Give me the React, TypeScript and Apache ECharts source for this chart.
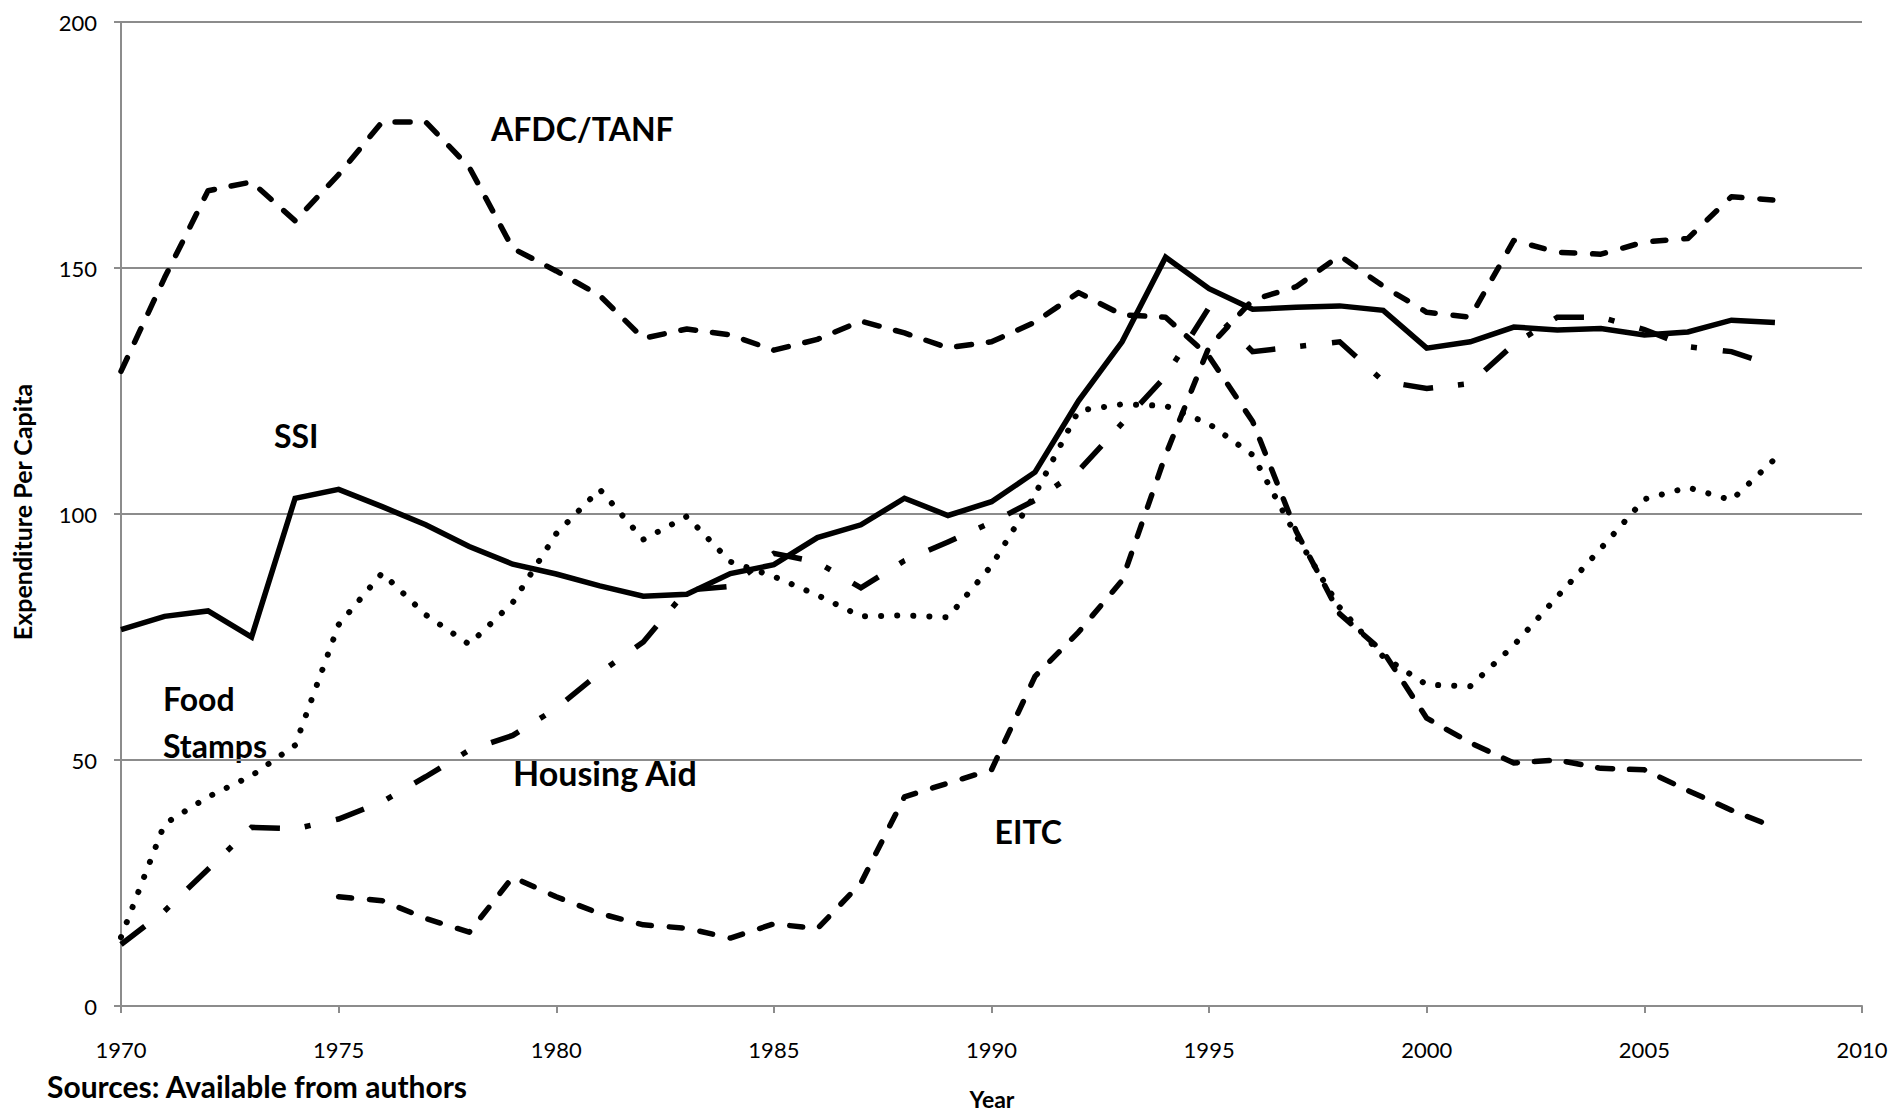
import React, { useEffect, useRef } from "react";
import * as echarts from "echarts";

// ---- data ----
const years = [
  1970, 1971, 1972, 1973, 1974, 1975, 1976, 1977, 1978, 1979,
  1980, 1981, 1982, 1983, 1984, 1985, 1986, 1987, 1988, 1989,
  1990, 1991, 1992, 1993, 1994, 1995, 1996, 1997, 1998, 1999,
  2000, 2001, 2002, 2003, 2004, 2005, 2006, 2007, 2008,
];

const afdcTanf = [
  129, 148, 165.7, 167.5, 159.6, 169, 179.7, 179.7, 170.5, 154,
  149.4, 144.4, 135.7, 137.6, 136.4, 133.3, 135.5, 139.2, 136.8, 133.8,
  135, 139, 145, 140.5, 140, 132, 118.8, 96.5, 79.7, 72,
  58.5, 53.5, 49.4, 50, 48.3, 48, 43.8, 39.8, 36.3,
];

const ssi = [
  76.5, 79.2, 80.3, 75, 103.2, 105, 101.5, 97.8, 93.4, 89.8,
  87.8, 85.4, 83.3, 83.7, 87.9, 89.7, 95.2, 97.8, 103.2, 99.7,
  102.5, 108.5, 123, 135, 152.2, 145.8, 141.6, 142, 142.3, 141.4,
  133.7, 135, 138, 137.4, 137.7, 136.4, 137, 139.4, 138.9,
];

const foodStamps = [
  14, 37, 42.5, 46.8, 53, 77.5, 88, 79.5, 73.5, 82,
  96, 105, 94.8, 99.5, 90.3, 87.3, 83.5, 79.2, 79.4, 79,
  89.5, 104, 121, 122.3, 122, 118.3, 112, 95.6, 81, 71,
  65.3, 65, 73.3, 83.2, 93, 103, 105.4, 102.8, 111.2,
];

const housingAid = [
  12.5, 19.3, 27.8, 36.3, 36, 38, 41.5, 46.6, 52, 55,
  60.5, 67.7, 74, 84.5, 85.3, 92, 90.2, 85, 90.5, 94.3,
  98.3, 102.8, 108.8, 118.4, 128, 142, 133, 134, 135, 127,
  125.5, 126.5, 134.5, 140, 140, 137.5, 134, 133, 130,
];

const eitcYears = [
  1975, 1976, 1977, 1978, 1979, 1980, 1981, 1982, 1983, 1984,
  1985, 1986, 1987, 1988, 1989, 1990, 1991, 1992, 1993, 1994,
  1995, 1996, 1997, 1998, 1999, 2000, 2001, 2002, 2003, 2004,
  2005, 2006, 2007, 2008,
];
const eitc = [
  22.2, 21.4, 17.8, 15, 26.2, 22.2, 18.8, 16.5, 15.8, 13.8,
  16.7, 15.7, 25, 42.5, 45.3, 48, 67, 76, 86.5, 112,
  134, 143.5, 146.2, 152.5, 146.3, 141, 140, 155.6, 153.2, 152.8,
  155.3, 156, 164.5, 163.8,
];

const xAxisRange = [1970, 2010];
const yAxisRange = [0, 200];
const yAxisTitle = "Expenditure Per Capita";
const xAxisTitle = "Year";
const sourceNote = "Sources: Available from authors";

const FONT = "Lato, 'Open Sans', sans-serif";
const GRAY = "#8c8c8c";

function pair(xs: number[], vs: number[]) {
  return xs.map((x, i) => [x, vs[i]]);
}

function labelText(text: string, x: number, y: number, size: number, extra: any = {}) {
  return {
    type: "text",
    x,
    y,
    silent: true,
    ...extra,
    style: {
      text,
      fill: "#000",
      fontFamily: FONT,
      fontWeight: "bold",
      fontSize: size,
      textAlign: extra.align || "left",
      align: extra.align || "left",
      textVerticalAlign: "middle",
      verticalAlign: "middle",
    },
  };
}

export default function App() {
  const ref = useRef<HTMLDivElement>(null);

  useEffect(() => {
    document.body.style.margin = "0";
    const chart = echarts.init(ref.current as HTMLDivElement, null, { renderer: "svg" });
    const base = {
      type: "line",
      symbol: "none",
      showSymbol: false,
      silent: true,
      animation: false,
    };
    chart.setOption({
      animation: false,
      backgroundColor: "#ffffff",
      grid: { left: 121, right: 32, top: 22, bottom: 107, containLabel: false },
      xAxis: {
        type: "value",
        min: xAxisRange[0],
        max: xAxisRange[1],
        interval: 5,
        axisLine: { show: true, lineStyle: { color: GRAY, width: 2 } },
        axisTick: { show: true, length: 7, lineStyle: { color: GRAY, width: 2 } },
        splitLine: { show: false },
        axisLabel: {
          color: "#000",
          fontSize: 22,
          fontFamily: FONT,
          margin: 32,
          formatter: (v: number) => String(v),
        },
      },
      yAxis: {
        type: "value",
        min: yAxisRange[0],
        max: yAxisRange[1],
        interval: 50,
        axisLine: { show: true, lineStyle: { color: GRAY, width: 2 } },
        axisTick: { show: true, length: 7, lineStyle: { color: GRAY, width: 2 } },
        splitLine: { show: true, lineStyle: { color: GRAY, width: 2 } },
        axisLabel: {
          color: "#000",
          fontSize: 22,
          fontFamily: FONT,
          margin: 24,
          formatter: (v: number) => String(v),
        },
      },
      series: [
        {
          ...base,
          name: "AFDC/TANF",
          data: pair(years, afdcTanf),
          lineStyle: { color: "#000", width: 5.5, type: [15, 17], cap: "round", join: "round" },
        },
        {
          ...base,
          name: "EITC",
          data: pair(eitcYears, eitc),
          lineStyle: { color: "#000", width: 5.5, type: [13, 18], cap: "round", join: "round" },
        },
        {
          ...base,
          name: "Housing Aid",
          data: pair(years, housingAid),
          lineStyle: { color: "#000", width: 5.5, type: [30, 25, 6, 26], cap: "butt", join: "miter" },
        },
        {
          ...base,
          name: "Food Stamps",
          data: pair(years, foodStamps),
          lineStyle: { color: "#000", width: 6, type: [0.1, 16], cap: "round", join: "round" },
        },
        {
          ...base,
          name: "SSI",
          data: pair(years, ssi),
          lineStyle: { color: "#000", width: 5.5, type: "solid", cap: "butt", join: "miter" },
        },
      ],
      graphic: [
        labelText("AFDC/TANF", 491, 128.5, 32),
        labelText("SSI", 274, 435, 32),
        labelText("Food", 163, 698.5, 32),
        labelText("Stamps", 163, 745, 32),
        labelText("Housing Aid", 513, 772, 34),
        labelText("EITC", 994.5, 831, 32),
        labelText(sourceNote, 47, 1086, 30),
        labelText(xAxisTitle, 992, 1099, 23, { align: "center" }),
        labelText(yAxisTitle, 22, 512, 25, { align: "center", rotation: Math.PI / 2 }),
      ],
    });
    return () => chart.dispose();
  }, []);

  return (
    <div
      ref={ref}
      style={{ position: "absolute", left: 0, top: 0, width: 1894, height: 1113, background: "#fff" }}
    />
  );
}
